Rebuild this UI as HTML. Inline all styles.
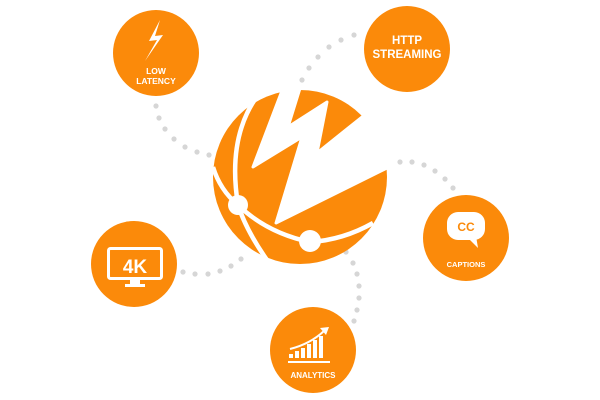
<!DOCTYPE html>
<html><head><meta charset="utf-8"><style>body{margin:0;background:#fff}svg{display:block}text{font-family:"Liberation Sans",sans-serif;font-weight:bold;fill:#fff;text-anchor:middle}</style></head><body>
<svg width="600" height="400" viewBox="0 0 600 400">
<g fill="#d6d6d6">
<circle cx="156" cy="106" r="2.6"/><circle cx="159" cy="118" r="2.6"/><circle cx="165" cy="129" r="2.6"/><circle cx="174" cy="139" r="2.6"/><circle cx="185" cy="147" r="2.6"/><circle cx="197" cy="152" r="2.6"/><circle cx="209" cy="155" r="2.6"/>
<circle cx="354" cy="35" r="2.6"/><circle cx="341" cy="40" r="2.6"/><circle cx="329" cy="47" r="2.6"/><circle cx="318" cy="57" r="2.6"/><circle cx="309" cy="68" r="2.6"/><circle cx="302" cy="80" r="2.6"/>
<circle cx="400" cy="162" r="2.6"/><circle cx="412" cy="162" r="2.6"/><circle cx="424" cy="165" r="2.6"/><circle cx="435" cy="171" r="2.6"/><circle cx="445" cy="179" r="2.6"/><circle cx="453" cy="188" r="2.6"/>
<circle cx="183" cy="272" r="2.6"/><circle cx="195" cy="274" r="2.6"/><circle cx="208" cy="274" r="2.6"/><circle cx="220" cy="271" r="2.6"/><circle cx="231" cy="266" r="2.6"/><circle cx="241" cy="259" r="2.6"/>
<circle cx="346" cy="252" r="2.6"/><circle cx="353" cy="263" r="2.6"/><circle cx="357" cy="274" r="2.6"/><circle cx="359" cy="286" r="2.6"/><circle cx="359" cy="298" r="2.6"/><circle cx="357" cy="310" r="2.6"/><circle cx="354" cy="321" r="2.6"/>
</g>
<circle cx="300" cy="177" r="87" fill="#fb8a0a"/>
<polygon fill="#fff" stroke="#fff" stroke-width="3" stroke-linejoin="round" points="283,88 253,167 302,137 276,223 387,168 391,168 391,110 362,117 317,153 327,102 288,127 301,85"/>
<path d="M258,95 Q227,137 238,205 Q247,233 272,267" fill="none" stroke="#fff" stroke-width="4.5"/>
<path d="M213,167 Q220,190 238,205 Q267,233 310,242 Q343,240 373,223" fill="none" stroke="#fff" stroke-width="4.5"/>
<circle cx="238" cy="205" r="10" fill="#fff"/><circle cx="310" cy="241" r="11" fill="#fff"/>
<g fill="#fb8a0a">
<circle cx="156" cy="53" r="43"/><circle cx="407" cy="49" r="43"/><circle cx="466" cy="238" r="43"/><circle cx="134" cy="264" r="43"/><circle cx="313" cy="350" r="43"/>
</g>
<polygon fill="#fff" points="160,20 149,41 157,40 145,61 163,35 155,36 160,20"/>
<text x="156" y="74" font-size="8.5">LOW</text><text x="156" y="84" font-size="8.5">LATENCY</text>
<text x="407" y="44" font-size="11.5">HTTP</text><text x="407" y="58" font-size="11.5">STREAMING</text>
<rect x="447" y="212" width="38" height="28" rx="11" fill="#fff"/>
<polygon fill="#fff" points="466,236 478,248 476,236"/>
<text x="466" y="231" font-size="12" style="fill:#fb8a0a">CC</text>
<text x="466" y="267" font-size="7.5">CAPTIONS</text>
<rect x="108.5" y="248.5" width="53" height="30" rx="2" fill="none" stroke="#fff" stroke-width="3"/>
<rect x="130" y="280" width="10" height="4" fill="#fff"/><rect x="125" y="284" width="20" height="3" fill="#fff"/>
<text x="135" y="273" font-size="19">4K</text>
<g fill="#fff"><rect x="289" y="354" width="4" height="4"/><rect x="295" y="351" width="4" height="7"/><rect x="301" y="348" width="4" height="10"/><rect x="307" y="344" width="4" height="14"/><rect x="313" y="340" width="4" height="18"/><rect x="319" y="336" width="4" height="22"/><rect x="288" y="361" width="42" height="2"/></g>
<path d="M290,349 Q310,344 324,331" fill="none" stroke="#fff" stroke-width="2"/><polygon fill="#fff" points="329,327 320,328 326,335"/>
<text x="313" y="378" font-size="8">ANALYTICS</text>
</svg>
</body></html>
